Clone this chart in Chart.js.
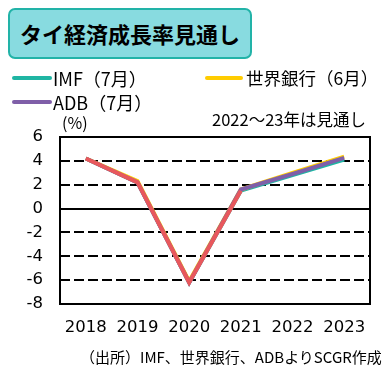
<!DOCTYPE html>
<html><head><meta charset="utf-8">
<script src="https://cdn.jsdelivr.net/npm/chart.js@4"></script>
<style>
html,body{margin:0;padding:0;background:#fff;}
body{width:385px;height:375px;position:relative;overflow:hidden;font-family:"Noto Sans CJK JP","Noto Sans",sans-serif;color:#000;}
#wrap{position:absolute;left:0;top:0;width:385px;height:375px;}
.t{position:absolute;white-space:nowrap;line-height:1;}
#title{position:absolute;left:8px;top:8px;width:240px;height:47px;background:#88dbe0;border:2px solid #22b3a8;border-radius:7px;font-weight:bold;font-size:22px;line-height:47px;text-align:center;}
.ln{position:absolute;height:4px;border-radius:2px;}
</style></head><body>
<div id="wrap"><canvas id="c" width="385" height="375"></canvas></div>
<div id="title">タイ経済成長率見通し</div>
<div class="ln" style="left:12px;top:76px;width:40px;background:#1fb5a3"></div>
<div class="t" style="left:53px;top:69px;font-size:18px">IMF（7月）</div>
<div class="ln" style="left:205px;top:76px;width:38px;background:#ffcc00"></div>
<div class="t" style="left:246px;top:69px;font-size:17.5px">世界銀行（6月）</div>
<div class="ln" style="left:12px;top:100px;width:40px;background:#7f5fa8"></div>
<div class="t" style="left:53px;top:93px;font-size:18px">ADB（7月）</div>
<div class="t" style="left:62px;top:114px;font-size:16px">(%)</div>
<div class="t" style="left:212px;top:111px;font-size:16.5px">2022～23年は見通し</div>
<div class="t" style="left:80px;top:349px;font-size:15px">（出所）IMF、世界銀行、ADBよりSCGR作成</div>
<script>
const years = ["2018","2019","2020","2021","2022","2023"];
const actual = [4.2, 2.2, -6.2, 1.5, null, null];
const imf = [4.2, 2.2, -6.2, 1.5, 2.8, 4.1];
const worldBank = [4.2, 2.3, -6.1, 1.6, 3.0, 4.35];
const adb = [4.2, 2.2, -6.2, 1.6, 2.9, 4.25];
const yTicks = [6, 4, 2, 0, -2, -4, -6, -8];

const boxPlugin = {
  id: 'box',
  afterDatasetsDraw(chart) {
    const a = chart.chartArea, ctx = chart.ctx;
    ctx.save();
    ctx.strokeStyle = '#000';
    ctx.lineWidth = 2;
    ctx.strokeRect(a.left, a.top, a.right - a.left, a.bottom - a.top);
    ctx.restore();
  }
};

new Chart(document.getElementById('c'), {
  type: 'line',
  data: {
    labels: years,
    datasets: [
      {label: 'actual', data: actual, borderColor: '#e8585c', borderWidth: 4, order: 0},
      {label: 'ADB', data: adb, borderColor: '#7f5fa8', borderWidth: 4, order: 1},
      {label: 'WB', data: worldBank, borderColor: '#ffcc00', borderWidth: 4, order: 2},
      {label: 'IMF', data: imf, borderColor: '#1fb5a3', borderWidth: 4, order: 3}
    ]
  },
  options: {
    responsive: false,
    animation: false,
    devicePixelRatio: 1,
    layout: {padding: {top: 137, right: 15, left: 0, bottom: 0}},
    elements: {point: {radius: 0}, line: {tension: 0, borderCapStyle: 'butt', borderJoinStyle: 'miter'}},
    plugins: {legend: {display: false}, tooltip: {enabled: false}},
    scales: {
      x: {
        offset: true,
        grid: {display: false, drawTicks: false},
        border: {display: false},
        ticks: {color: '#000', font: {size: 16.5, family: '"DejaVu Sans"'}, padding: 14, maxRotation: 0},
        afterFit(s) { s.height = 71; }
      },
      y: {
        min: -8, max: 6,
        afterBuildTicks(s) { s.ticks = yTicks.map(v => ({value: v})); },
        grid: {
          drawTicks: false,
          color: '#000',
          lineWidth: c => (c.tick && (c.tick.value === 6 || c.tick.value === -8)) ? 0 : 2
        },
        border: {display: false, dash: c => (c.tick && c.tick.value === 0) ? [] : [10, 4]},
        ticks: {color: '#000', font: {size: 16.5, family: '"DejaVu Sans"'}, padding: 17},
        afterFit(s) { s.width = 60; }
      }
    }
  },
  plugins: [boxPlugin]
});
</script>
</body></html>
